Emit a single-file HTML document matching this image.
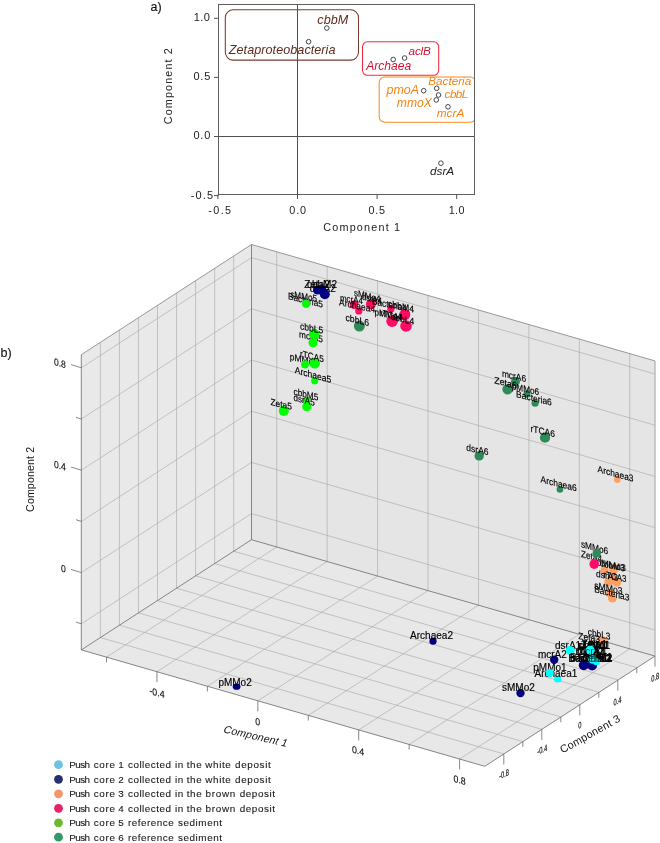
<!DOCTYPE html><html><head><meta charset="utf-8"><title>Figure</title>
<style>html,body{margin:0;padding:0;background:#fff}svg{display:block}text{font-family:"Liberation Sans",sans-serif}</style></head><body>
<svg width="660" height="843" viewBox="0 0 660 843">
<rect width="660" height="843" fill="#fff"/>
<g opacity="0.999">
<g id="panelA">
<text x="150.5" y="11.3" font-size="12.5" fill="#111" stroke="#111" stroke-width="0.15">a)</text>
<clipPath id="cpA"><rect x="218.5" y="4.5" width="256.0" height="190.0"/></clipPath>
<g clip-path="url(#cpA)" fill="none" stroke-width="1.05">
<rect x="225.3" y="9.8" width="133.2" height="50.3" rx="8" ry="8" stroke="#7a3b2e"/>
<rect x="362.5" y="41.8" width="76.2" height="33.5" rx="5" ry="5" stroke="#f0283c"/>
<rect x="379.2" y="76.9" width="96.5" height="45.3" rx="5.5" ry="5.5" stroke="#ff8a1e"/>
</g>
<g stroke="#505050" stroke-width="1" fill="none">
<line x1="297.5" y1="4.5" x2="297.5" y2="194.5"/>
<line x1="218.5" y1="136.5" x2="474.5" y2="136.5"/>
<rect x="218.5" y="4.5" width="256.0" height="190.0" stroke="#5e5e5e"/>
<line x1="217.9" y1="194.5" x2="217.9" y2="199.0"/>
<line x1="214.0" y1="195.6" x2="218.5" y2="195.6"/>
<line x1="297.5" y1="194.5" x2="297.5" y2="199.0"/>
<line x1="214.0" y1="136.5" x2="218.5" y2="136.5"/>
<line x1="377.1" y1="194.5" x2="377.1" y2="199.0"/>
<line x1="214.0" y1="77.4" x2="218.5" y2="77.4"/>
<line x1="456.7" y1="194.5" x2="456.7" y2="199.0"/>
<line x1="214.0" y1="18.3" x2="218.5" y2="18.3"/>
</g>
<text x="208.35" y="214" font-size="10.8" fill="#222" textLength="22.7" lengthAdjust="spacing">-0.5</text>
<text x="289.35" y="214" font-size="10.8" fill="#222" textLength="16.7" lengthAdjust="spacing">0.0</text>
<text x="368.55" y="214" font-size="10.8" fill="#222" textLength="16.5" lengthAdjust="spacing">0.5</text>
<text x="448.7" y="214" font-size="10.8" fill="#222" textLength="15.8" lengthAdjust="spacing">1.0</text>
<text x="193.85" y="21.1" font-size="11" fill="#222" textLength="16.1" lengthAdjust="spacing">1.0</text>
<text x="193.55" y="80.3" font-size="11" fill="#222" textLength="16.7" lengthAdjust="spacing">0.5</text>
<text x="193.55" y="139.4" font-size="11" fill="#222" textLength="16.7" lengthAdjust="spacing">0.0</text>
<text x="190.7" y="198.5" font-size="11" fill="#222" textLength="22.4" lengthAdjust="spacing">-0.5</text>
<text x="323.3" y="231" font-size="10.8" fill="#222" textLength="76.7" lengthAdjust="spacing">Component 1</text>
<text transform="translate(171.6,124.3) rotate(-90)" font-size="10.8" fill="#222" textLength="76.2" lengthAdjust="spacing">Component 2</text>
<g fill="#fff" stroke="#333" stroke-width="0.9">
<circle cx="326.8" cy="28.1" r="2.3"/>
<circle cx="308.6" cy="41.7" r="2.3"/>
<circle cx="393.2" cy="59.5" r="2.3"/>
<circle cx="404.6" cy="58" r="2.3"/>
<circle cx="423.7" cy="90.7" r="2.3"/>
<circle cx="436.7" cy="88.3" r="2.3"/>
<circle cx="438.5" cy="95" r="2.3"/>
<circle cx="436.3" cy="99.9" r="2.3"/>
<circle cx="448" cy="106.8" r="2.3"/>
<circle cx="440.9" cy="163.2" r="2.3"/>
</g>
<text x="317.3" y="23.5" font-size="12.6" font-style="italic" fill="#5e2a1c" textLength="31" lengthAdjust="spacing">cbbM</text>
<text x="228.8" y="53.8" font-size="12.6" font-style="italic" fill="#5e2a1c" textLength="106.7" lengthAdjust="spacing">Zetaproteobacteria</text>
<text x="408.6" y="54.6" font-size="11.7" font-style="italic" fill="#cf1230" textLength="22.2" lengthAdjust="spacing">aclB</text>
<text x="366.2" y="70.4" font-size="12.06" font-style="italic" fill="#cf1230" textLength="44.9" lengthAdjust="spacing">Archaea</text>
<text x="428.3" y="85.2" font-size="11.7" font-style="italic" fill="#f5820f" textLength="42.9" lengthAdjust="spacing">Bacteria</text>
<text x="386.5" y="94" font-size="12.44" font-style="italic" fill="#f5820f" textLength="32.5" lengthAdjust="spacing">pmoA</text>
<text x="444.6" y="97.6" font-size="11.7" font-style="italic" fill="#f5820f" textLength="23.7" lengthAdjust="spacing">cbbL</text>
<text x="396.8" y="106.8" font-size="12.11" font-style="italic" fill="#f5820f" textLength="35" lengthAdjust="spacing">mmoX</text>
<text x="436.7" y="116.7" font-size="11.83" font-style="italic" fill="#f5820f" textLength="27.6" lengthAdjust="spacing">mcrA</text>
<text x="430" y="174.5" font-size="11.77" font-style="italic" fill="#222" textLength="24.2" lengthAdjust="spacing">dsrA</text>
</g>
<g id="panelB">
<polygon points="81.3,649.9 251.5,539.7 251.5,244.5 81.3,354.7" fill="#e9e9e9"/>
<polygon points="251.5,539.7 655,656.1 655,360.9 251.5,244.5" fill="#e5e5e5"/>
<polygon points="81.3,649.9 251.5,539.7 655,656.1 484.8,766.3" fill="#e8e8e8"/>
<g stroke="#a8a8a8" stroke-width="0.62" fill="none">
<line x1="100.35" y1="637.57" x2="100.35" y2="342.37"/>
<line x1="100.35" y1="637.57" x2="503.85" y2="753.97"/>
<line x1="119.4" y1="625.23" x2="119.4" y2="330.03"/>
<line x1="119.4" y1="625.23" x2="522.9" y2="741.63"/>
<line x1="138.45" y1="612.9" x2="138.45" y2="317.7"/>
<line x1="138.45" y1="612.9" x2="541.95" y2="729.3"/>
<line x1="157.5" y1="600.56" x2="157.5" y2="305.36"/>
<line x1="157.5" y1="600.56" x2="561" y2="716.96"/>
<line x1="176.55" y1="588.23" x2="176.55" y2="293.03"/>
<line x1="176.55" y1="588.23" x2="580.05" y2="704.63"/>
<line x1="195.6" y1="575.89" x2="195.6" y2="280.69"/>
<line x1="195.6" y1="575.89" x2="599.1" y2="692.29"/>
<line x1="214.65" y1="563.56" x2="214.65" y2="268.36"/>
<line x1="214.65" y1="563.56" x2="618.15" y2="679.96"/>
<line x1="233.7" y1="551.23" x2="233.7" y2="256.03"/>
<line x1="233.7" y1="551.23" x2="637.2" y2="667.63"/>
<line x1="276.72" y1="546.98" x2="276.72" y2="251.78"/>
<line x1="276.72" y1="546.98" x2="106.52" y2="657.17"/>
<line x1="327.16" y1="561.53" x2="327.16" y2="266.33"/>
<line x1="327.16" y1="561.53" x2="156.96" y2="671.73"/>
<line x1="377.59" y1="576.08" x2="377.59" y2="280.88"/>
<line x1="377.59" y1="576.08" x2="207.39" y2="686.27"/>
<line x1="428.03" y1="590.62" x2="428.03" y2="295.43"/>
<line x1="428.03" y1="590.62" x2="257.83" y2="700.82"/>
<line x1="478.47" y1="605.18" x2="478.47" y2="309.98"/>
<line x1="478.47" y1="605.18" x2="308.27" y2="715.38"/>
<line x1="528.91" y1="619.73" x2="528.91" y2="324.53"/>
<line x1="528.91" y1="619.73" x2="358.71" y2="729.92"/>
<line x1="579.34" y1="634.27" x2="579.34" y2="339.07"/>
<line x1="579.34" y1="634.27" x2="409.14" y2="744.47"/>
<line x1="629.78" y1="648.83" x2="629.78" y2="353.63"/>
<line x1="629.78" y1="648.83" x2="459.58" y2="759.02"/>
<line x1="81.3" y1="367.8" x2="251.5" y2="257.6"/>
<line x1="251.5" y1="257.6" x2="655" y2="374"/>
<line x1="81.3" y1="419" x2="251.5" y2="308.8"/>
<line x1="251.5" y1="308.8" x2="655" y2="425.2"/>
<line x1="81.3" y1="470.2" x2="251.5" y2="360"/>
<line x1="251.5" y1="360" x2="655" y2="476.4"/>
<line x1="81.3" y1="521.4" x2="251.5" y2="411.2"/>
<line x1="251.5" y1="411.2" x2="655" y2="527.6"/>
<line x1="81.3" y1="572.6" x2="251.5" y2="462.4"/>
<line x1="251.5" y1="462.4" x2="655" y2="578.8"/>
<line x1="81.3" y1="623.8" x2="251.5" y2="513.6"/>
<line x1="251.5" y1="513.6" x2="655" y2="630"/>
</g>
<line x1="655.0" y1="656.1" x2="655.0" y2="360.9" stroke="#b8b8b8" stroke-width="1.4"/>
<g stroke="#6a6a6a" stroke-width="0.8" fill="none">
<polyline points="655,656.1 484.8,766.3 81.3,649.9 81.3,354.7"/>
<polyline stroke="#808080" points="81.3,354.7 251.5,244.5 655,360.9"/>
<line x1="251.5" y1="539.7" x2="251.5" y2="244.5"/>
<line x1="81.3" y1="649.9" x2="251.5" y2="539.7"/>
<line x1="251.5" y1="539.7" x2="655" y2="656.1"/>
<line x1="106.52" y1="657.17" x2="106.52" y2="662.38"/>
<line x1="156.96" y1="671.72" x2="156.96" y2="682.22"/>
<line x1="207.39" y1="686.27" x2="207.39" y2="691.48"/>
<line x1="257.83" y1="700.82" x2="257.83" y2="711.32"/>
<line x1="308.27" y1="715.38" x2="308.27" y2="720.58"/>
<line x1="358.71" y1="729.92" x2="358.71" y2="740.42"/>
<line x1="409.14" y1="744.47" x2="409.14" y2="749.67"/>
<line x1="459.58" y1="759.02" x2="459.58" y2="769.52"/>
<line x1="503.8" y1="754" x2="503.8" y2="764.5"/>
<line x1="522.8" y1="741.7" x2="522.8" y2="746.9"/>
<line x1="541.8" y1="729.39" x2="541.8" y2="739.89"/>
<line x1="560.8" y1="717.09" x2="560.8" y2="722.29"/>
<line x1="579.8" y1="704.79" x2="579.8" y2="715.29"/>
<line x1="598.8" y1="692.49" x2="598.8" y2="697.69"/>
<line x1="617.8" y1="680.19" x2="617.8" y2="690.69"/>
<line x1="636.8" y1="667.88" x2="636.8" y2="673.08"/>
<line x1="655" y1="656.1" x2="655" y2="666.6"/>
<line x1="81.3" y1="367.8" x2="71" y2="364.6"/>
<line x1="81.3" y1="419" x2="76" y2="417.3"/>
<line x1="81.3" y1="470.2" x2="71" y2="467"/>
<line x1="81.3" y1="521.4" x2="76" y2="519.7"/>
<line x1="81.3" y1="572.6" x2="71" y2="569.4"/>
<line x1="81.3" y1="623.8" x2="76" y2="622.1"/>
</g>
<g font-size="8.6" fill="#111">
<text transform="matrix(0.86,0.22,0,1,53.9,365.1)" font-size="10" stroke="#111" stroke-width="0.15">0.8</text>
<text transform="matrix(0.86,0.22,0,1,53.9,467.6)" font-size="10" stroke="#111" stroke-width="0.15">0.4</text>
<text transform="matrix(0.86,0.22,0,1,60.9,571.6)" font-size="10" stroke="#111" stroke-width="0.15">0</text>
<text transform="matrix(0.88,0.25,0,1,157,696.0)" text-anchor="middle" font-size="10" stroke="#111" stroke-width="0.15">-0.4</text>
<text transform="matrix(0.88,0.25,0,1,257.6,725.1999999999999)" text-anchor="middle" font-size="10" stroke="#111" stroke-width="0.15">0</text>
<text transform="matrix(0.88,0.25,0,1,358,754.1999999999999)" text-anchor="middle" font-size="10" stroke="#111" stroke-width="0.15">0.4</text>
<text transform="matrix(0.88,0.25,0,1,459.6,783.4)" text-anchor="middle" font-size="10" stroke="#111" stroke-width="0.15">0.8</text>
<text transform="matrix(0.64,-0.30,0,1,504,777.2)" text-anchor="middle" font-size="9" stroke="#111" stroke-width="0.2">-0.8</text>
<text transform="matrix(0.64,-0.30,0,1,542.2,752.7)" text-anchor="middle" font-size="9" stroke="#111" stroke-width="0.2">-0.4</text>
<text transform="matrix(0.64,-0.30,0,1,579.8,728.2)" text-anchor="middle" font-size="9" stroke="#111" stroke-width="0.2">0</text>
<text transform="matrix(0.64,-0.30,0,1,617.4,704.2)" text-anchor="middle" font-size="9" stroke="#111" stroke-width="0.2">0.4</text>
<text transform="matrix(0.64,-0.30,0,1,655.3,680.5)" text-anchor="middle" font-size="9" stroke="#111" stroke-width="0.2">0.8</text>
</g>
<text transform="translate(33.8,511.9) rotate(-90)" font-size="10.6" fill="#111" textLength="65" lengthAdjust="spacing">Component 2</text>
<text transform="translate(222.6,732.2) rotate(13) skewX(-12)" font-size="10.6" fill="#111" textLength="65" lengthAdjust="spacing">Component 1</text>
<text transform="translate(562.5,753.6) rotate(-29.2)" font-size="10.8" fill="#111" textLength="67" lengthAdjust="spacing">Component 3</text>
<text x="0.5" y="357.2" font-size="12.5" fill="#111" stroke="#111" stroke-width="0.15">b)</text>
<ellipse cx="236.6" cy="686.7" rx="3.9" ry="3.1" fill="#000080"/>
<g>
<circle cx="324.8" cy="294.2" r="5" fill="#000080"/>
<circle cx="433" cy="641.2" r="3.6" fill="#000080"/>
<circle cx="520.5" cy="693.1" r="4.2" fill="#000080"/>
<circle cx="554.2" cy="659.7" r="4.2" fill="#000080"/>
<circle cx="583.8" cy="665.2" r="5" fill="#000080"/>
<circle cx="592.1" cy="665.5" r="5" fill="#000080"/>
<circle cx="314.7" cy="380.8" r="3.6" fill="#00ff00"/>
<circle cx="306.8" cy="400.6" r="3.6" fill="#00ff00"/>
<circle cx="306.8" cy="406.7" r="4.6" fill="#00ff00"/>
<circle cx="283.8" cy="410.9" r="5" fill="#00ff00"/>
<circle cx="353.9" cy="304.8" r="4.2" fill="#ff0a64"/>
<circle cx="358.8" cy="310.9" r="3.6" fill="#ff0a64"/>
<circle cx="370.9" cy="304.2" r="5" fill="#ff0a64"/>
<circle cx="390.9" cy="309.1" r="3.6" fill="#ff0a64"/>
<circle cx="404.8" cy="314.5" r="5.5" fill="#ff0a64"/>
<circle cx="392.1" cy="321.2" r="5.8" fill="#ff0a64"/>
<circle cx="406" cy="326" r="5.8" fill="#ff0a64"/>
<circle cx="359.4" cy="326" r="5.5" fill="#2e8b57"/>
<circle cx="515.5" cy="381.4" r="4.5" fill="#2e8b57"/>
<circle cx="507.6" cy="389.2" r="5.2" fill="#2e8b57"/>
<circle cx="527" cy="394.1" r="3.5" fill="#2e8b57"/>
<circle cx="535.1" cy="403.2" r="3.6" fill="#2e8b57"/>
<circle cx="545" cy="437.7" r="5.1" fill="#2e8b57"/>
<circle cx="479.2" cy="455.9" r="4.7" fill="#2e8b57"/>
<circle cx="559.9" cy="489.5" r="3.3" fill="#2e8b57"/>
<circle cx="617.3" cy="479.6" r="3.4" fill="#ffa062"/>
<circle cx="604.5" cy="570.2" r="4" fill="#ffa062"/>
<circle cx="613.6" cy="569.5" r="4.5" fill="#ffa062"/>
<circle cx="608.8" cy="581.7" r="4.5" fill="#ffa062"/>
<circle cx="616.7" cy="582.3" r="4.5" fill="#ffa062"/>
<circle cx="612.4" cy="578.6" r="4" fill="#ffa062"/>
<circle cx="610" cy="593.2" r="4" fill="#ffa062"/>
<circle cx="612.4" cy="598" r="4.5" fill="#ffa062"/>
<circle cx="602.7" cy="641.4" r="5" fill="#ffa062"/>
<circle cx="591.8" cy="643.9" r="3.5" fill="#ffa062"/>
<circle cx="557.6" cy="679" r="3.6" fill="#00ffff"/>
</g>
<g fill="#000" stroke="#000" stroke-width="0.16">
<text transform="matrix(0.8837,0.1915,0,1,299,337.3)" font-size="9.4">mcrA5</text>
<text x="309.7" y="292.4" font-size="10">dsrA2</text>
<text transform="matrix(0.8998,0.2010,0,1,289.8,359.7)" font-size="9.4">pMMo5</text>
</g>
<g>
<circle cx="314.2" cy="334" r="5.3" fill="#00ff00"/>
<circle cx="313" cy="342.7" r="4.5" fill="#00ff00"/>
<circle cx="317.5" cy="290" r="4.5" fill="#000080"/>
<circle cx="321.5" cy="289.4" r="4.5" fill="#000080"/>
<circle cx="305" cy="364.5" r="3.9" fill="#00ff00"/>
<circle cx="314.7" cy="363.3" r="5.2" fill="#00ff00"/>
</g>
<g fill="#000" stroke="#000" stroke-width="0.16">
<text x="304.2" y="288.2" font-size="10">Zeta2</text>
<text x="307" y="287.6" font-size="10">cbbM2</text>
<text transform="matrix(0.8665,0.1460,0,1,290.3,297.3)" font-size="9.4">sMMo5</text>
<text transform="matrix(0.8839,0.2141,0,1,287.9,299.1)" font-size="9.4">Bacteria5</text>
<text transform="matrix(0.8469,0.1215,0,1,340,300.9)" font-size="9.4">mcrA4</text>
<text transform="matrix(0.8997,0.1864,0,1,339,305.2)" font-size="9.4">Archaea4</text>
<text transform="matrix(0.8665,0.2142,0,1,353.9,295.8)" font-size="9.4">sMMo4</text>
<text transform="matrix(0.8145,0.2036,0,1,362,299.5)" font-size="9.4">dsrA4</text>
<text transform="matrix(0.8814,0.1889,0,1,372,304)" font-size="9.4">Bacteria4</text>
<text transform="matrix(0.9216,0.2198,0,1,388,306.5)" font-size="9.4">cbbM4</text>
<text transform="matrix(0.8710,0.1755,0,1,374.5,315)" font-size="9.4">pMMo4</text>
<text transform="matrix(0.8469,0.1841,0,1,380,316)" font-size="9.4">rTCA4</text>
<text transform="matrix(0.9059,0.2070,0,1,391,319.5)" font-size="9.4">cbbL4</text>
<text transform="matrix(0.9215,0.2148,0,1,345.5,320.6)" font-size="9.4">cbbL6</text>
<text transform="matrix(0.9059,0.1796,0,1,300,329.2)" font-size="9.4">cbbL5</text>
<text transform="matrix(0.8764,0.2099,0,1,300,356.7)" font-size="9.4">rTCA5</text>
<text transform="matrix(0.9121,0.2460,0,1,294.7,373.1)" font-size="9.4">Archaea5</text>
<text transform="matrix(0.8791,0.2162,0,1,293.5,394.5)" font-size="9.4">cbbM5</text>
<text transform="matrix(0.8634,0.2118,0,1,293.5,400.6)" font-size="9.4">dsrA5</text>
<text transform="matrix(0.8904,0.1997,0,1,270.5,405.1)" font-size="9.4">Zeta5</text>
<text transform="matrix(0.8911,0.2025,0,1,501.9,376.5)" font-size="9.4">mcrA6</text>
<text transform="matrix(0.9486,0.2413,0,1,494.2,383.2)" font-size="9.4">Zeta6</text>
<text transform="matrix(0.8710,0.1946,0,1,511.8,389.2)" font-size="9.4">pMMo6</text>
<text transform="matrix(0.8990,0.2141,0,1,516.1,397.1)" font-size="9.4">Bacteria6</text>
<text transform="matrix(0.9022,0.2025,0,1,530.5,431.7)" font-size="9.4">rTCA6</text>
<text transform="matrix(0.9082,0.1996,0,1,466.3,450.5)" font-size="9.4">dsrA6</text>
<text transform="matrix(0.9022,0.2262,0,1,540.5,482.3)" font-size="9.4">Archaea6</text>
<text transform="matrix(0.8860,0.2369,0,1,580.9,547.1)" font-size="9.4">sMMo6</text>
<text transform="matrix(0.8947,0.2460,0,1,597.6,472)" font-size="9.4">Archaea3</text>
<text transform="matrix(0.8779,0.2288,0,1,580.9,556.8)" font-size="9.4">Zeta4</text>
<text transform="matrix(0.9349,0.2042,0,1,596.5,565)" font-size="9.4">pMMo3</text>
<text transform="matrix(0.8684,0.1950,0,1,600,566)" font-size="9.4">cbbM3</text>
<text transform="matrix(0.8960,0.1710,0,1,596,576.8)" font-size="9.4">dsrA3</text>
<text transform="matrix(0.8432,0.1767,0,1,603.5,577.5)" font-size="9.4">rTCA3</text>
<text transform="matrix(0.9249,0.1980,0,1,594.2,588.3)" font-size="9.4">sMMo3</text>
<text transform="matrix(0.8864,0.2266,0,1,594.2,592)" font-size="9.4">Bacteria3</text>
<text transform="matrix(0.8903,0.1952,0,1,587.7,634.8)" font-size="9.4">cbbL3</text>
<text transform="matrix(0.9070,0.1498,0,1,578.2,638.9)" font-size="9.4">Zeta3</text>
<text x="410" y="639.4" font-size="10.05">Archaea2</text>
<text x="218.4" y="686.1" font-size="10">pMMo2</text>
<text x="502" y="690.7" font-size="10">sMMo2</text>
<text x="537.9" y="657.6" font-size="10">mcrA2</text>
<text x="533.3" y="670.8" font-size="10">pMMo1</text>
<text x="534.5" y="676.8" font-size="10">Archaea1</text>
<text x="555" y="648.5" font-size="10">dsrA1</text>
</g>
<g>
<circle cx="594.2" cy="564.1" r="4.8" fill="#ff0a64"/>
<circle cx="596.7" cy="553.2" r="4.2" fill="#2e8b57"/>
<circle cx="306.1" cy="303.9" r="4.2" fill="#00ff00"/>
<circle cx="570.2" cy="650.5" r="4.5" fill="#00ffff"/>
<circle cx="549.7" cy="673" r="3.9" fill="#00ffff"/>
</g>
<g fill="#000" stroke="#000" stroke-width="0.16">
<text x="577.5" y="648.6" font-size="10">sMMo1</text>
<text x="579" y="648.9" font-size="10">cbbM1</text>
<text x="581.5" y="648.3" font-size="10">Zeta1</text>
<text x="578" y="649.2" font-size="10">rTCA1</text>
<text x="575.5" y="654.6" font-size="10">rTCA1</text>
<text x="577" y="655" font-size="10">mcrA1</text>
<text x="580" y="654.3" font-size="10">cbbL1</text>
<text x="578.5" y="655.3" font-size="10">Zeta2</text>
<text x="568.5" y="661.7" font-size="10">Bacteria2</text>
<text x="570" y="661.3" font-size="10">Bacteria1</text>
<text x="573" y="662" font-size="10">rTCA2</text>
<text x="585.2" y="661.7" font-size="10">cbbL2</text>
<text x="582.5" y="661.4" font-size="10">cbbM1</text>
<text x="579" y="662" font-size="10">sMMo1</text>
</g>
<g>
<circle cx="590.2" cy="650.3" r="4.5" fill="#00ffff"/>
<circle cx="592.6" cy="659.5" r="4.3" fill="#00ffff"/>
<circle cx="596.5" cy="661.7" r="3.5" fill="#00ffff"/>
</g>
<g fill="#000" fill-opacity="0.75">
<text x="585.2" y="661.7" font-size="10">cbbL2</text>
<text x="568.5" y="661.7" font-size="10">Bacteria2</text>
<text x="577" y="655" font-size="10">mcrA1</text>
</g>
</g>
<g id="legend">
<circle cx="58.5" cy="764.7" r="4.4" fill="#6cc5e0"/>
<g font-size="9.9" fill="#1a1a1a" stroke="#1a1a1a" stroke-width="0.12">
<text x="69.2" y="768.4" textLength="20.8" lengthAdjust="spacing">Push</text>
<text x="93.7" y="768.4" textLength="21.3" lengthAdjust="spacing">core</text>
<text x="118.19999999999999" y="768.4">1</text>
<text x="128" y="768.4" textLength="42.9" lengthAdjust="spacing">collected</text>
<text x="175" y="768.4" textLength="8.3" lengthAdjust="spacing">in</text>
<text x="186.7" y="768.4" textLength="15" lengthAdjust="spacing">the</text>
<text x="205.3" y="768.4" textLength="25.5" lengthAdjust="spacing">white</text>
<text x="235" y="768.4" textLength="35.8" lengthAdjust="spacing">deposit</text>
</g>
<circle cx="58.5" cy="779.3" r="4.4" fill="#27306e"/>
<g font-size="9.9" fill="#1a1a1a" stroke="#1a1a1a" stroke-width="0.12">
<text x="69.2" y="782.85" textLength="20.8" lengthAdjust="spacing">Push</text>
<text x="93.7" y="782.85" textLength="21.3" lengthAdjust="spacing">core</text>
<text x="118.19999999999999" y="782.85">2</text>
<text x="128" y="782.85" textLength="42.9" lengthAdjust="spacing">collected</text>
<text x="175" y="782.85" textLength="8.3" lengthAdjust="spacing">in</text>
<text x="186.7" y="782.85" textLength="15" lengthAdjust="spacing">the</text>
<text x="205.3" y="782.85" textLength="25.5" lengthAdjust="spacing">white</text>
<text x="235" y="782.85" textLength="35.8" lengthAdjust="spacing">deposit</text>
</g>
<circle cx="58.5" cy="793.8" r="4.4" fill="#f4966b"/>
<g font-size="9.9" fill="#1a1a1a" stroke="#1a1a1a" stroke-width="0.12">
<text x="69.2" y="797.3" textLength="20.8" lengthAdjust="spacing">Push</text>
<text x="93.7" y="797.3" textLength="21.3" lengthAdjust="spacing">core</text>
<text x="118.19999999999999" y="797.3">3</text>
<text x="128" y="797.3" textLength="42.9" lengthAdjust="spacing">collected</text>
<text x="175" y="797.3" textLength="8.3" lengthAdjust="spacing">in</text>
<text x="186.7" y="797.3" textLength="15" lengthAdjust="spacing">the</text>
<text x="205.5" y="797.3" textLength="29.8" lengthAdjust="spacing">brown</text>
<text x="239.7" y="797.3" textLength="35.3" lengthAdjust="spacing">deposit</text>
</g>
<circle cx="58.5" cy="808.3" r="4.4" fill="#e8206a"/>
<g font-size="9.9" fill="#1a1a1a" stroke="#1a1a1a" stroke-width="0.12">
<text x="69.2" y="811.75" textLength="20.8" lengthAdjust="spacing">Push</text>
<text x="93.7" y="811.75" textLength="21.3" lengthAdjust="spacing">core</text>
<text x="118.19999999999999" y="811.75">4</text>
<text x="128" y="811.75" textLength="42.9" lengthAdjust="spacing">collected</text>
<text x="175" y="811.75" textLength="8.3" lengthAdjust="spacing">in</text>
<text x="186.7" y="811.75" textLength="15" lengthAdjust="spacing">the</text>
<text x="205.5" y="811.75" textLength="29.8" lengthAdjust="spacing">brown</text>
<text x="239.7" y="811.75" textLength="35.3" lengthAdjust="spacing">deposit</text>
</g>
<circle cx="58.5" cy="822.8" r="4.4" fill="#6db82c"/>
<g font-size="9.9" fill="#1a1a1a" stroke="#1a1a1a" stroke-width="0.12">
<text x="69.2" y="826.2" textLength="20.8" lengthAdjust="spacing">Push</text>
<text x="93.7" y="826.2" textLength="21.3" lengthAdjust="spacing">core</text>
<text x="118.19999999999999" y="826.2">5</text>
<text x="128" y="826.2" textLength="45.7" lengthAdjust="spacing">reference</text>
<text x="178" y="826.2" textLength="44" lengthAdjust="spacing">sediment</text>
</g>
<circle cx="58.5" cy="837.2" r="4.4" fill="#2e9a68"/>
<g font-size="9.9" fill="#1a1a1a" stroke="#1a1a1a" stroke-width="0.12">
<text x="69.2" y="840.65" textLength="20.8" lengthAdjust="spacing">Push</text>
<text x="93.7" y="840.65" textLength="21.3" lengthAdjust="spacing">core</text>
<text x="118.19999999999999" y="840.65">6</text>
<text x="128" y="840.65" textLength="45.7" lengthAdjust="spacing">reference</text>
<text x="178" y="840.65" textLength="44" lengthAdjust="spacing">sediment</text>
</g>
</g>
</g>
</svg></body></html>
